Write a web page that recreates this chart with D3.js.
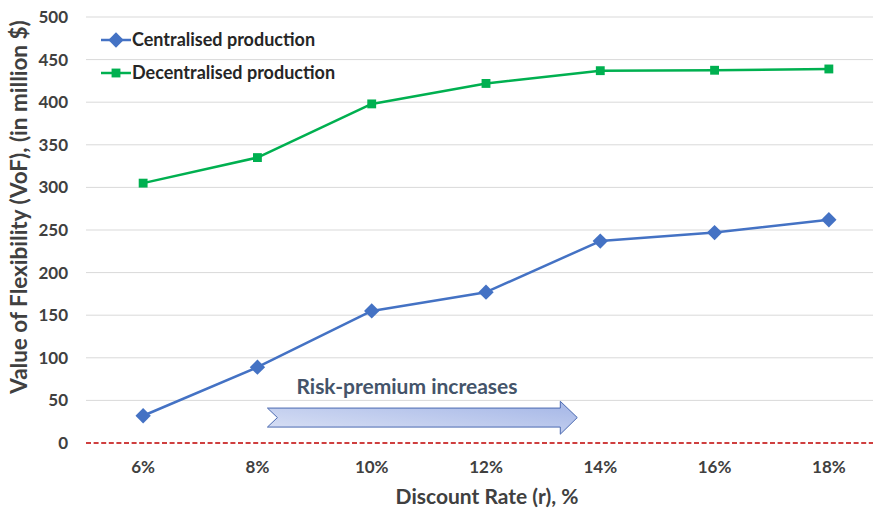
<!DOCTYPE html>
<html>
<head>
<meta charset="utf-8">
<script src="https://cdn.jsdelivr.net/npm/d3@7"></script>
<style>
  html, body { margin: 0; padding: 0; background: #fff; }
  svg { display: block; font-family: Lato, "Open Sans", sans-serif; }
</style>
</head>
<body>
<svg id="chart" width="873" height="513"></svg>
<script>
// Discount rate categories and value-of-flexibility series (million $)
const rates = ["6%", "8%", "10%", "12%", "14%", "16%", "18%"];
const centralised = [32, 89, 155, 177, 237, 247, 262];
const decentralised = [305, 335, 398, 422, 437, 437.5, 439];
const yTicks = [0, 50, 100, 150, 200, 250, 300, 350, 400, 450, 500];
const seriesNames = ["Centralised production", "Decentralised production"];

const svg = d3.select("#chart");
const margin = { left: 86, right: 886, top: 17, bottom: 443 };

const x = d3.scaleBand().domain(rates).range([margin.left, margin.right]);
const y = d3.scaleLinear().domain([0, 500]).range([margin.bottom, margin.top]);
const cx = d => x(d) + x.bandwidth() / 2;

// gradient for the annotation arrow
const defs = svg.append("defs");
const grad = defs.append("linearGradient").attr("id", "arrowFill")
  .attr("x1", "0").attr("y1", "1").attr("x2", "1").attr("y2", "0");
grad.append("stop").attr("offset", "0%").attr("stop-color", "#dbe2f5");
grad.append("stop").attr("offset", "100%").attr("stop-color", "#a3b5e6");

// horizontal gridlines
svg.append("g").selectAll("line")
  .data(yTicks.filter(t => t > 0))
  .join("line")
  .attr("x1", margin.left).attr("x2", 873)
  .attr("y1", d => y(d)).attr("y2", d => y(d))
  .attr("stroke", "#d9d9d9").attr("stroke-width", 1);

// y axis labels
const yAxis = d3.axisLeft(y).tickValues(yTicks).tickSize(0).tickPadding(18);
const yg = svg.append("g").attr("transform", `translate(${margin.left},0)`).call(yAxis);
yg.select(".domain").remove();
yg.selectAll("text")
  .attr("font-family", "Lato, sans-serif")
  .attr("font-size", 17).attr("font-weight", "bold").attr("fill", "#404040");

// x axis labels
const xAxis = d3.axisBottom(x).tickSize(0).tickPadding(18);
const xg = svg.append("g").attr("transform", `translate(0,${margin.bottom})`).call(xAxis);
xg.select(".domain").remove();
xg.selectAll("text")
  .attr("font-family", "Lato, sans-serif")
  .attr("font-size", 17).attr("font-weight", "bold").attr("fill", "#404040");

// zero reference line
svg.append("line")
  .attr("x1", margin.left).attr("x2", 873)
  .attr("y1", y(0)).attr("y2", y(0))
  .attr("stroke", "#c00000").attr("stroke-width", 1.5)
  .attr("stroke-dasharray", "5,2.6");

// axis titles
svg.append("text")
  .attr("x", 487).attr("y", 504)
  .attr("text-anchor", "middle")
  .attr("font-size", 21).attr("font-weight", "bold").attr("fill", "#404040")
  .text("Discount Rate (r), %");

svg.append("text")
  .attr("transform", "translate(27,207) rotate(-90)")
  .attr("text-anchor", "middle")
  .attr("font-size", 22.5).attr("font-weight", "bold").attr("fill", "#404040")
  .text("Value of Flexibility (VoF), (in million $)");

// annotation arrow: notched left end, triangular head
const ax0 = cx("8%") + 10, ax1 = cx("14%") - 23;
const headX = ax1 - 17;
const bodyTop = y(41), bodyBot = y(18.7), headTop = y(49), headBot = y(10.3);
const midY = (bodyTop + bodyBot) / 2;
const arrowPts = [
  [ax0, bodyTop], [headX, bodyTop], [headX, headTop], [ax1, midY],
  [headX, headBot], [headX, bodyBot], [ax0, bodyBot], [ax0 + 10, midY]
];
svg.append("path")
  .attr("d", d3.line()(arrowPts) + "Z")
  .attr("fill", "url(#arrowFill)")
  .attr("stroke", "#4a69b0").attr("stroke-width", 1);

svg.append("text")
  .attr("x", 407).attr("y", 394)
  .attr("text-anchor", "middle")
  .attr("font-size", 21).attr("font-weight", "bold").attr("fill", "#44546a")
  .text("Risk-premium increases");

// series lines and markers
const series = [
  { name: seriesNames[0], values: centralised, color: "#4472c4", shape: d3.symbolDiamond2, size: 150 },
  { name: seriesNames[1], values: decentralised, color: "#00b050", shape: d3.symbolSquare2, size: 100 }
];

const line = d3.line().x((d, i) => cx(rates[i])).y(d => y(d));

series.forEach(s => {
  svg.append("path")
    .datum(s.values)
    .attr("d", line)
    .attr("fill", "none")
    .attr("stroke", s.color).attr("stroke-width", 2.5)
    .attr("stroke-linejoin", "round");
  svg.append("g").selectAll("path")
    .data(s.values)
    .join("path")
    .attr("transform", (d, i) => `translate(${cx(rates[i])},${y(d)})`)
    .attr("d", d3.symbol().type(s.shape).size(s.size))
    .attr("fill", s.color);
});

// legend
const legend = svg.append("g");
series.forEach((s, i) => {
  const ly = 40 + i * 33;
  legend.append("line")
    .attr("x1", 101).attr("x2", 131).attr("y1", ly).attr("y2", ly)
    .attr("stroke", s.color).attr("stroke-width", 2.5);
  legend.append("path")
    .attr("transform", `translate(116,${ly})`)
    .attr("d", d3.symbol().type(s.shape).size(s.size))
    .attr("fill", s.color);
  legend.append("text")
    .attr("x", 132).attr("y", ly + 6)
    .attr("font-size", 18).attr("font-weight", "bold").attr("fill", "#262626")
    .text(s.name);
});
</script>
</body>
</html>
